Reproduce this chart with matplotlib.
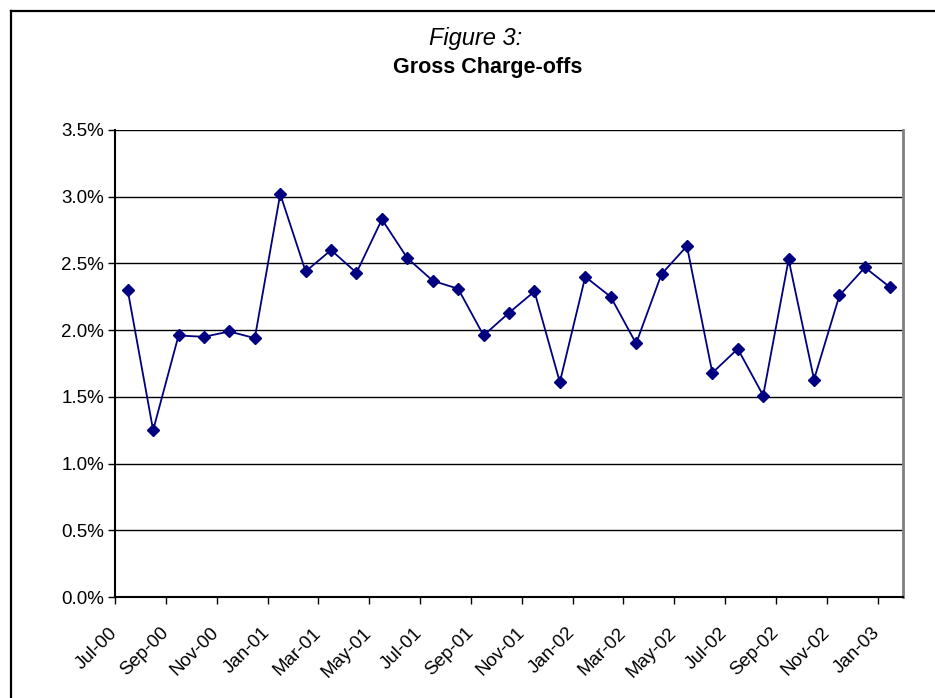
import numpy as np
import matplotlib
matplotlib.use('Agg')
import matplotlib.pyplot as plt
from matplotlib.lines import Line2D
from matplotlib.ticker import FuncFormatter

plt.rcParams['font.family'] = ['Liberation Sans', 'DejaVu Sans']

months = ['Jul-00', 'Aug-00', 'Sep-00', 'Oct-00', 'Nov-00', 'Dec-00',
          'Jan-01', 'Feb-01', 'Mar-01', 'Apr-01', 'May-01', 'Jun-01',
          'Jul-01', 'Aug-01', 'Sep-01', 'Oct-01', 'Nov-01', 'Dec-01',
          'Jan-02', 'Feb-02', 'Mar-02', 'Apr-02', 'May-02', 'Jun-02',
          'Jul-02', 'Aug-02', 'Sep-02', 'Oct-02', 'Nov-02', 'Dec-02',
          'Jan-03']
# gross charge-offs, percent
charge_offs = [2.30, 1.25, 1.96, 1.95, 1.99, 1.94, 3.02, 2.44, 2.60, 2.43,
               2.83, 2.54, 2.37, 2.31, 1.96, 2.13, 2.29, 1.61, 2.40, 2.25,
               1.90, 2.42, 2.63, 1.68, 1.86, 1.51, 2.53, 1.63, 2.26, 2.47,
               2.32]
y_ticks = [0.0, 0.5, 1.0, 1.5, 2.0, 2.5, 3.0, 3.5]

W, H = 935, 698
fig = plt.figure(figsize=(W / 100, H / 100), dpi=100)

# outer frame (only left and top edges are in the picture)
fig.add_artist(Line2D([11 / W, 11 / W], [0, 1 - 11 / H], color='black', lw=1.6, transform=fig.transFigure))
fig.add_artist(Line2D([11 / W, 1], [1 - 11 / H, 1 - 11 / H], color='black', lw=1.6, transform=fig.transFigure))

left, right, top, bottom = 115, 903, 130, 597
ax = fig.add_axes([left / W, 1 - bottom / H, (right - left) / W, (bottom - top) / H])

x = np.arange(len(months))
ax.plot(x, charge_offs, color='#000080', lw=1.3, marker='D', markersize=6,
        markerfacecolor='#000080', markeredgecolor='#000080', zorder=3)

ax.set_xlim(-0.5, len(months) - 0.5)
ax.set_ylim(0, 3.5)
ax.set_yticks(y_ticks)
ax.yaxis.set_major_formatter(FuncFormatter(lambda v, p: '%.1f%%' % v))
for v in y_ticks[1:]:
    ax.axhline(v, color='black', lw=1.0, zorder=1)

tick_pos = x[::2] - 0.5
ax.set_xticks(tick_pos)
ax.set_xticklabels(months[::2], rotation=45, ha='right', va='center', rotation_mode='anchor')

ax.tick_params(axis='both', direction='out', length=5, width=1, color='black',
               labelsize=13.5, labelcolor='black')
ax.tick_params(axis='x', pad=19)
ax.tick_params(axis='y', pad=3)

for s in ['left', 'bottom']:
    ax.spines[s].set_color('black')
    ax.spines[s].set_linewidth(1.5)
ax.spines['top'].set_visible(False)
ax.spines['right'].set_color('#808080')
ax.spines['right'].set_linewidth(2)

fig.text(476 / W, 1 - 39 / H, 'Figure 3:', ha='center', va='center', fontsize=17, style='italic')
fig.text(488 / W, 1 - 67 / H, 'Gross Charge-offs', ha='center', va='center', fontsize=15.5, fontweight='bold')

fig.savefig('out.png', dpi=100)
